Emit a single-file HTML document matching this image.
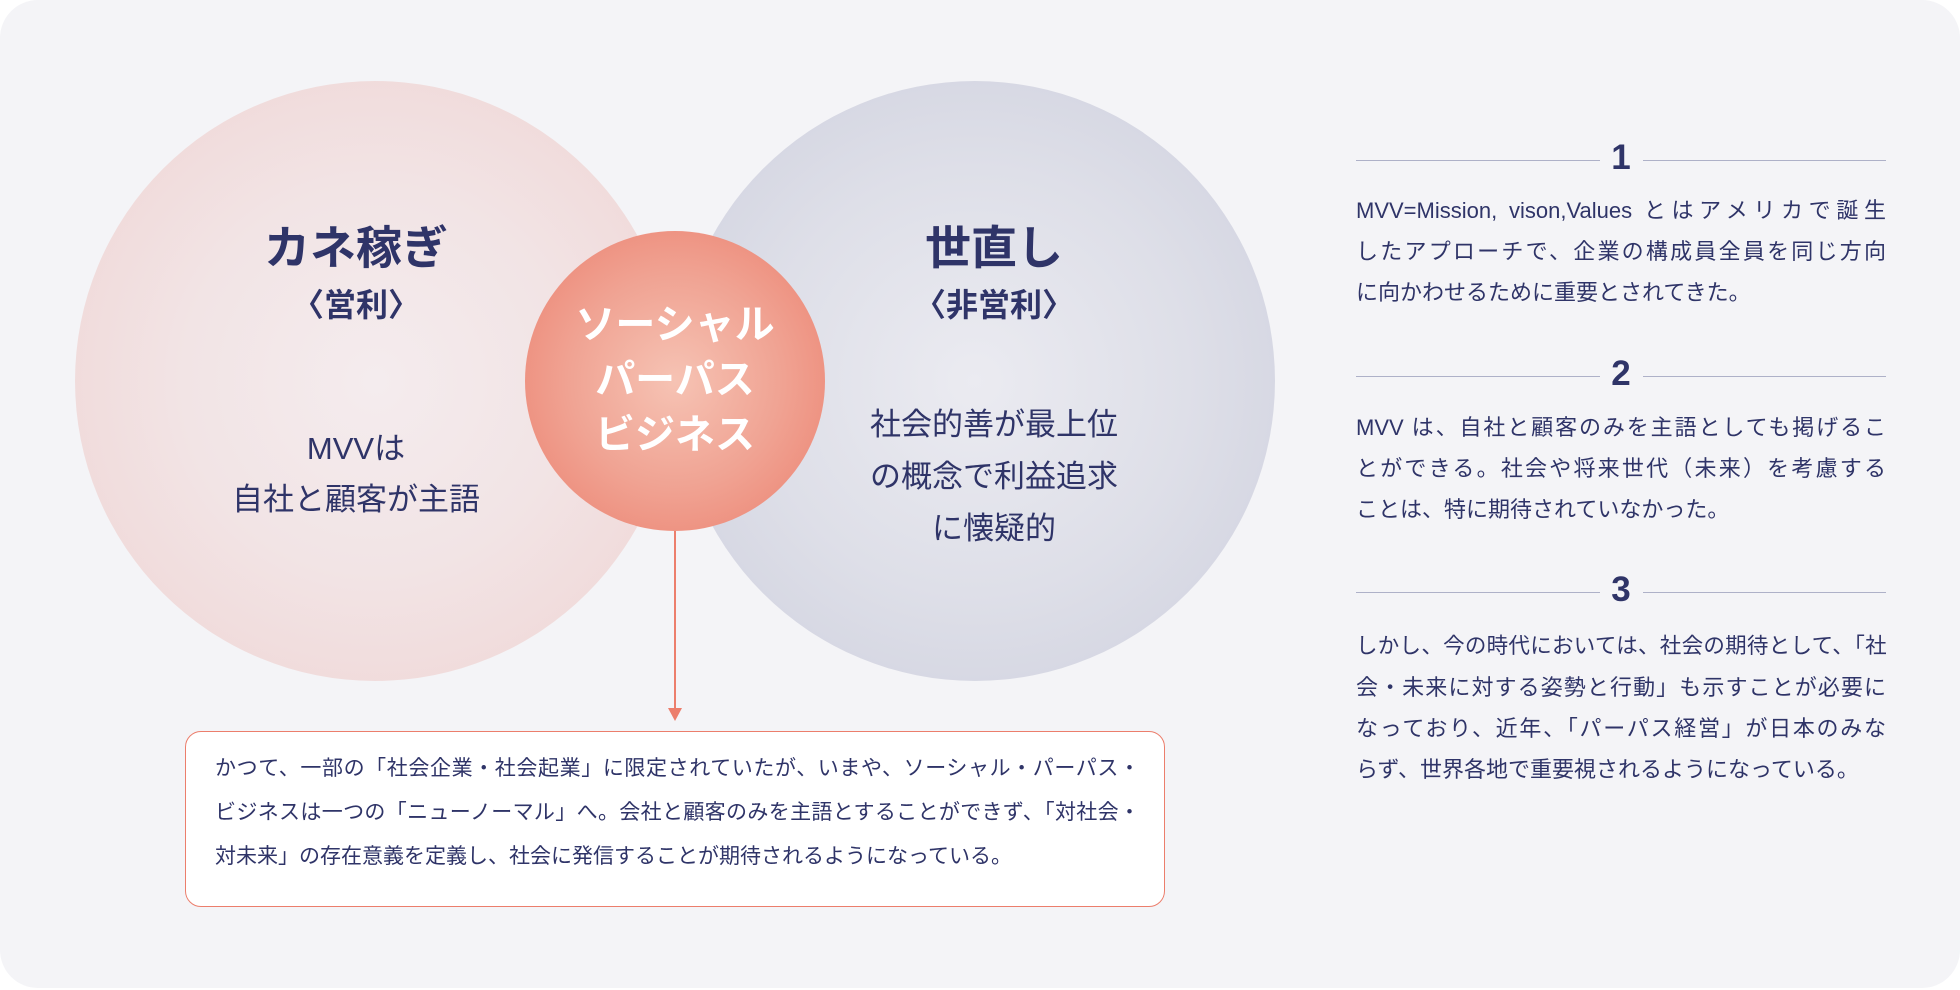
<!DOCTYPE html>
<html><head><meta charset="utf-8"><style>
body{margin:0;width:1960px;height:990px;background:#fff;overflow:hidden;font-family:"Liberation Sans","Noto Sans CJK JP",sans-serif;color:#2f3468}
.card{position:absolute;left:0;top:0;width:1960px;height:988px;background:#f4f4f7;border-radius:38px}
.c{position:absolute;border-radius:50%}
.t{position:absolute;text-align:center;white-space:nowrap}
.num{position:absolute;font-weight:bold;font-size:35px;width:60px;text-align:center;left:1591px}
.hl{position:absolute;height:1px;background:#aeb1c8}
.p{position:absolute;left:1356px;width:530px;font-size:22px;line-height:41px}
.j{text-align:justify;text-align-last:justify;white-space:nowrap}
</style></head><body>
<div class="card"></div>
<div class="c" style="left:75px;top:81px;width:600px;height:600px;background:radial-gradient(circle,#f4ecee 0%,#f2e4e5 45%,#efd3d2 100%)"></div>
<div class="c" style="left:675px;top:81px;width:600px;height:600px;background:radial-gradient(circle,#ebebf1 0%,#dedfe8 50%,#cdcfdd 100%)"></div>
<div class="c" style="left:525px;top:231px;width:300px;height:300px;background:radial-gradient(circle,#f6c3b4 0%,#f0a393 50%,#ec7e6c 100%)"></div>
<div class="t" style="left:206px;width:300px;top:212px;font-size:46px;font-weight:bold">カネ稼ぎ</div>
<div class="t" style="left:206px;width:300px;top:280px;font-size:32px;font-weight:bold">〈営利〉</div>
<div class="t" style="left:206px;width:300px;top:423px;font-size:31px;line-height:51px">MVVは<br>自社と顧客が主語</div>
<div class="t" style="left:844px;width:300px;top:212px;font-size:46px;font-weight:bold">世直し</div>
<div class="t" style="left:844px;width:300px;top:280px;font-size:32px;font-weight:bold">〈非営利〉</div>
<div class="t" style="left:844px;width:300px;top:399px;font-size:31px;line-height:52px">社会的善が最上位<br>の概念で利益追求<br>に懐疑的</div>
<div class="t" style="left:525px;width:300px;top:298px;font-size:40px;line-height:55px;font-weight:bold;color:#fff">ソーシャル<br>パーパス<br>ビジネス</div>
<div style="position:absolute;left:674px;top:531px;width:2px;height:180px;background:#ec7e6c"></div>
<div style="position:absolute;left:668px;top:708px;width:0;height:0;border-left:7px solid transparent;border-right:7px solid transparent;border-top:13px solid #ec7e6c"></div>
<div style="position:absolute;left:185px;top:731px;width:978px;height:174px;border:1.5px solid #ec7e6c;border-radius:16px;background:#fff"></div>
<div style="position:absolute;left:215px;top:747px;width:925px;font-size:21px;line-height:44px">
<div class="j">かつて、一部の「社会企業・社会起業」に限定されていたが、いまや、ソーシャル・パーパス・</div>
<div class="j">ビジネスは一つの「ニューノーマル」へ。会社と顧客のみを主語とすることができず、「対社会・</div>
<div style="white-space:nowrap">対未来」の存在意義を定義し、社会に発信することが期待されるようになっている。</div>
</div>
<div class="hl" style="left:1356px;top:160px;width:244px"></div><div class="hl" style="left:1643px;top:160px;width:243px"></div>
<div class="num" style="top:138px">1</div>
<div class="p" style="top:190px"><div class="j">MVV=Mission, vison,Values とはアメリカで誕生</div><div class="j">したアプローチで、企業の構成員全員を同じ方向</div><div>に向かわせるために重要とされてきた。</div></div>
<div class="hl" style="left:1356px;top:376px;width:244px"></div><div class="hl" style="left:1643px;top:376px;width:243px"></div>
<div class="num" style="top:354px">2</div>
<div class="p" style="top:407px"><div class="j">MVV は、自社と顧客のみを主語としても掲げるこ</div><div class="j">とができる。社会や将来世代（未来）を考慮する</div><div>ことは、特に期待されていなかった。</div></div>
<div class="hl" style="left:1356px;top:592px;width:244px"></div><div class="hl" style="left:1643px;top:592px;width:243px"></div>
<div class="num" style="top:570px">3</div>
<div class="p" style="top:626px"><div class="j" style="letter-spacing:-0.6px;font-size:21.5px">しかし、今の時代においては、社会の期待として、「社</div><div class="j">会・未来に対する姿勢と行動」も示すことが必要に</div><div class="j">なっており、近年、「パーパス経営」が日本のみな</div><div>らず、世界各地で重要視されるようになっている。</div></div>
</body></html>
